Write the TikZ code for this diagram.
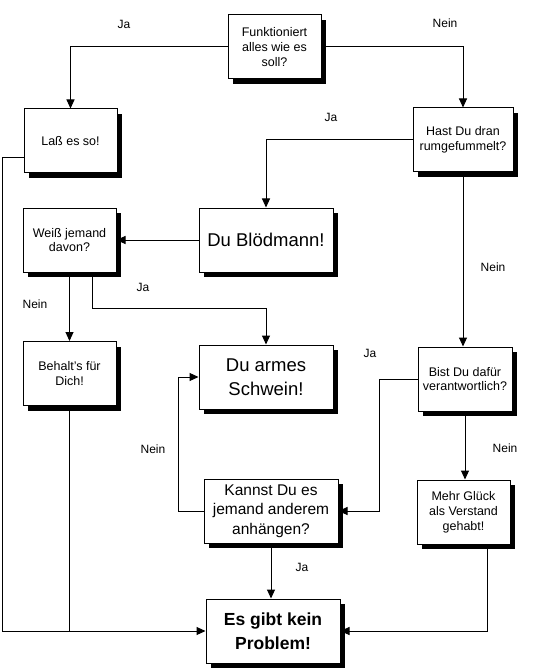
\documentclass[tikz,border=0pt]{standalone}
\usepackage{fontspec}
\setmainfont{Liberation Sans}
\usetikzlibrary{arrows.meta,shadows}

\begin{document}
\begin{tikzpicture}[x=1pt,y=-1pt,
  box/.style={draw,fill=white,line width=1pt,align=center,minimum height=64pt,
    minimum width=93pt,inner sep=2pt,
    drop shadow={shadow xshift=5pt,shadow yshift=-5pt,fill=black,opacity=1}},
  klein/.style={box,font=\fontsize{12.5}{14.8}\selectfont},
  mittel/.style={box,minimum width=134pt,font=\fontsize{15.5}{19.5}\selectfont},
  gross/.style={box,minimum width=134pt,font=\fontsize{18.5}{24}\selectfont},
  fett/.style={box,minimum width=134pt,font=\fontsize{17.5}{24}\selectfont\bfseries},
  antwort/.style={font=\fontsize{12}{14}\selectfont},
  pfeil/.style={line width=1pt,-{Triangle[width=8pt,length=9pt]}},
  linie/.style={line width=1pt}]
\useasboundingbox (0,0) rectangle (540,668);

 \node[klein] (funk) at (274.5,47) {Funktioniert\\alles wie es\\soll?};
 \node[klein] (lass) at (70.5,141) {La\ss{} es so!};
 \node[klein,minimum width=100pt] (hast) at (463,140) {Hast Du dran\\rumgefummelt?};
 \node[gross] (bloed) at (266,240) {Du Blödmann!};
 \node[klein] (weiss) at (69.5,240) {Weiß jemand\\davon?};
 \node[klein] (behalt) at (69.5,373.5) {Behalt's für\\Dich!};
 \node[gross] (armes) at (266,377) {Du armes\\Schwein!};
 \node[klein,minimum width=94pt] (bist) at (465,379) {Bist Du dafür\\verantwortlich?};
 \node[mittel] (kannst) at (271,511) {Kannst Du es\\jemand anderem\\anhängen?};
 \node[klein] (mehr) at (463.5,512) {Mehr Glück\\als Verstand\\gehabt!};
 \node[fett] (problem) at (273,631) {Es gibt kein\\Problem!};

 % Verbindungen
 \draw[pfeil] (funk.west) -| (lass.north);
 \draw[pfeil] (funk.east) -| (hast.north);
 \draw[pfeil] ([yshift=-17pt]lass.west) -- ++(-21,0) |- (problem.west);
 \draw[pfeil] (hast.west) -| (bloed.north);
 \draw[pfeil] (hast.south) -- (hast.south |- bist.north);
 \draw[pfeil] (bloed.west) -- (weiss.east);
 \draw[pfeil] (weiss.south) -- (behalt.north);
 \draw[pfeil] ([xshift=23pt]weiss.south) -- ++(0,36) -| (armes.north);
 \draw[linie] (behalt.south) -- (behalt.south |- problem.west);
 \draw[pfeil] (bist.west) -- ++(-38,0) |- (kannst.east);
 \draw[pfeil] (bist.south) -- (bist.south |- mehr.north);
 \draw[pfeil] (kannst.west) -- ++(-25,0) |- (armes.west);
 \draw[pfeil] (kannst.south) -- (kannst.south |- problem.north);
 \draw[pfeil] ([xshift=24pt]mehr.south) |- (problem.east);

 % Antworten
 \node[antwort] (ja1) at (124,24) {Ja};
 \node[antwort] (nein1) at (445,23) {Nein};
 \node[antwort] (ja2) at (331,117) {Ja};
 \node[antwort] (nein2) at (493,267) {Nein};
 \node[antwort] (ja3) at (143,287) {Ja};
 \node[antwort] (nein3) at (35,304) {Nein};
 \node[antwort] (ja4) at (370,353) {Ja};
 \node[antwort] (nein4) at (153,449) {Nein};
 \node[antwort] (nein5) at (505,448) {Nein};
 \node[antwort] (ja5) at (302,567) {Ja};
\end{tikzpicture}
\end{document}
